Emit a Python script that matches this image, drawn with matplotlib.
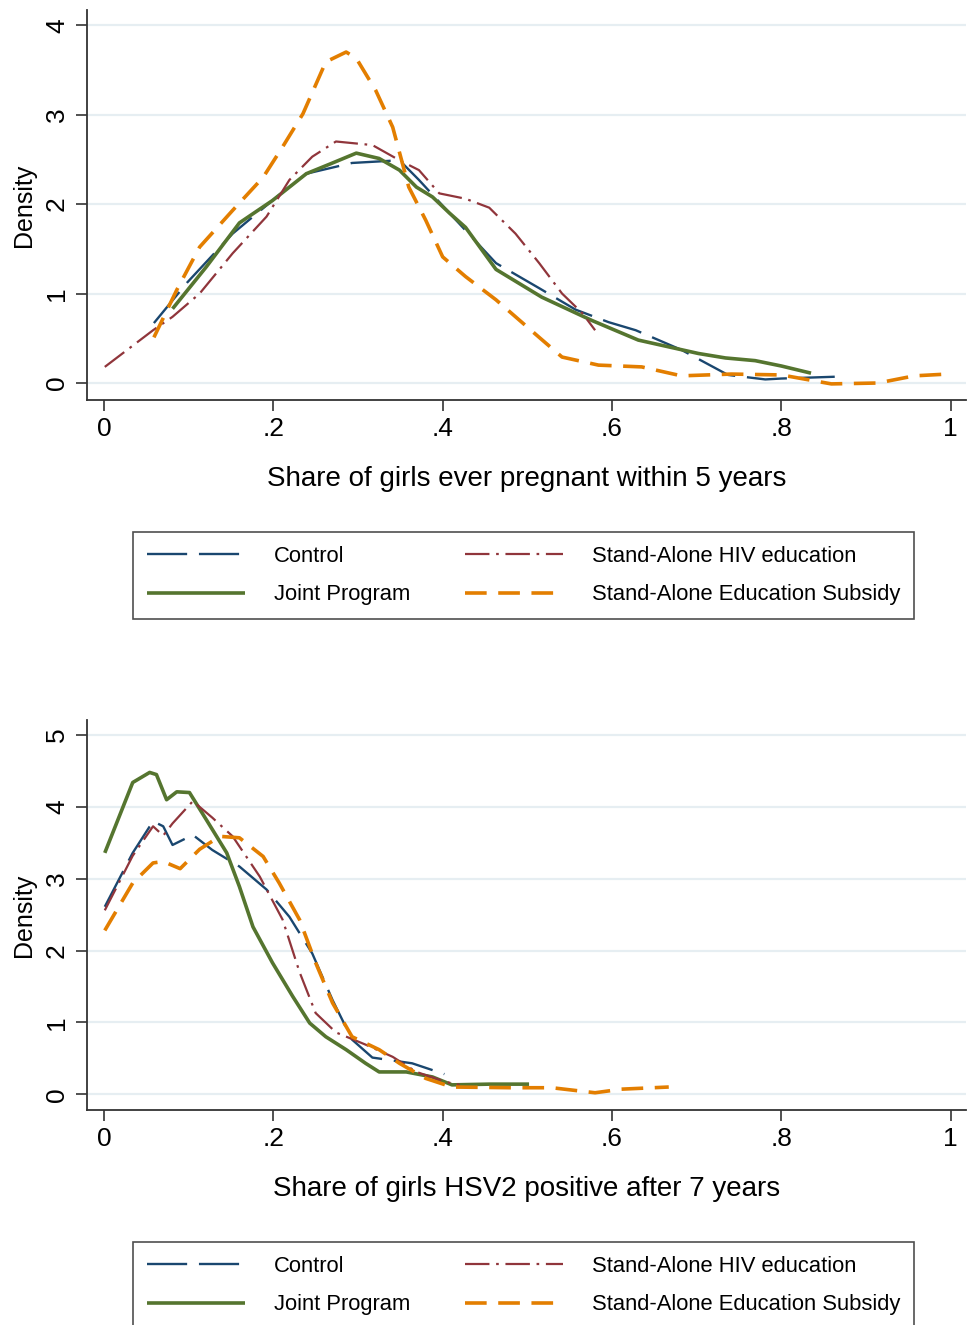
import matplotlib
matplotlib.use("Agg")
import matplotlib.pyplot as plt

plt.rcParams['font.family'] = ['Liberation Sans', 'DejaVu Sans']

# ---- data ----
groups = ["Control", "Joint Program", "Stand-Alone HIV education", "Stand-Alone Education Subsidy"]

# panel 1: share ever pregnant within 5 years
preg_ctrl_x = [0.059, 0.098, 0.152, 0.204, 0.239, 0.293, 0.349, 0.372, 0.408, 0.463, 0.514, 0.557, 0.596, 0.628, 0.682, 0.737, 0.781, 0.800, 0.863]
preg_ctrl_y = [0.67, 1.12, 1.67, 2.08, 2.34, 2.46, 2.49, 2.27, 1.90, 1.34, 1.06, 0.82, 0.68, 0.59, 0.37, 0.09, 0.04, 0.05, 0.07]
preg_joint_x = [0.081, 0.121, 0.160, 0.199, 0.239, 0.270, 0.298, 0.325, 0.349, 0.369, 0.388, 0.408, 0.427, 0.463, 0.517, 0.576, 0.631, 0.702, 0.734, 0.769, 0.800, 0.835]
preg_joint_y = [0.83, 1.30, 1.79, 2.04, 2.34, 2.46, 2.57, 2.51, 2.38, 2.19, 2.08, 1.90, 1.74, 1.27, 0.96, 0.70, 0.48, 0.33, 0.28, 0.25, 0.19, 0.11]
preg_hiv_x = [0.001, 0.058, 0.081, 0.113, 0.152, 0.192, 0.219, 0.246, 0.274, 0.317, 0.349, 0.372, 0.396, 0.427, 0.455, 0.486, 0.514, 0.541, 0.565, 0.580]
preg_hiv_y = [0.18, 0.59, 0.74, 1.00, 1.45, 1.86, 2.27, 2.53, 2.70, 2.66, 2.49, 2.38, 2.12, 2.06, 1.96, 1.67, 1.34, 1.00, 0.78, 0.59]
preg_sub_x = [0.059, 0.086, 0.113, 0.152, 0.188, 0.211, 0.235, 0.262, 0.286, 0.298, 0.321, 0.341, 0.360, 0.380, 0.400, 0.427, 0.463, 0.514, 0.541, 0.584, 0.635, 0.682, 0.741, 0.800, 0.859, 0.914, 0.957, 0.996]
preg_sub_y = [0.51, 1.04, 1.52, 1.93, 2.30, 2.64, 3.01, 3.59, 3.70, 3.63, 3.27, 2.86, 2.19, 1.82, 1.41, 1.19, 0.93, 0.51, 0.29, 0.20, 0.18, 0.08, 0.10, 0.09, -0.01, 0.00, 0.08, 0.10]

# panel 2: share HSV2 positive after 7 years
hsv_ctrl_x = [0.001, 0.034, 0.058, 0.070, 0.081, 0.105, 0.128, 0.160, 0.192, 0.219, 0.246, 0.270, 0.293, 0.317, 0.364, 0.402]
hsv_ctrl_y = [2.61, 3.36, 3.80, 3.73, 3.47, 3.61, 3.40, 3.17, 2.85, 2.47, 1.96, 1.31, 0.76, 0.51, 0.43, 0.28]
hsv_joint_x = [0.001, 0.034, 0.054, 0.062, 0.074, 0.086, 0.101, 0.121, 0.145, 0.160, 0.176, 0.199, 0.223, 0.243, 0.262, 0.286, 0.309, 0.325, 0.357, 0.388, 0.411, 0.455, 0.502]
hsv_joint_y = [3.36, 4.34, 4.48, 4.45, 4.10, 4.21, 4.20, 3.82, 3.36, 2.89, 2.33, 1.83, 1.36, 0.99, 0.80, 0.62, 0.43, 0.31, 0.31, 0.24, 0.13, 0.14, 0.14]
hsv_hiv_x = [0.001, 0.034, 0.058, 0.070, 0.081, 0.105, 0.128, 0.152, 0.184, 0.211, 0.231, 0.250, 0.274, 0.309, 0.341, 0.369, 0.404, 0.420]
hsv_hiv_y = [2.56, 3.32, 3.73, 3.60, 3.77, 4.08, 3.85, 3.59, 3.03, 2.43, 1.70, 1.13, 0.86, 0.69, 0.52, 0.31, 0.17, 0.13]
hsv_sub_x = [0.001, 0.034, 0.058, 0.070, 0.090, 0.113, 0.137, 0.160, 0.188, 0.207, 0.231, 0.250, 0.270, 0.293, 0.325, 0.349, 0.380, 0.411, 0.482, 0.529, 0.580, 0.611, 0.667]
hsv_sub_y = [2.28, 2.94, 3.22, 3.24, 3.14, 3.41, 3.59, 3.57, 3.31, 2.94, 2.43, 1.83, 1.27, 0.80, 0.62, 0.43, 0.22, 0.10, 0.09, 0.09, 0.02, 0.07, 0.10]

x_ticks = [0, 0.2, 0.4, 0.6, 0.8, 1]
x_ticklabels = ["0", ".2", ".4", ".6", ".8", "1"]

# stata s2color-ish styles
styles = {
    "Control": dict(color="#1a476f", lw=1.7, dashes=(17, 5)),
    "Joint Program": dict(color="#55752f", lw=2.6),
    "Stand-Alone HIV education": dict(color="#90353b", lw=1.6, dashes=(11, 3, 1.2, 3)),
    "Stand-Alone Education Subsidy": dict(color="#e37e00", lw=2.6, dashes=(6, 3.2)),
}

fig = plt.figure(figsize=(9.68, 13.25), dpi=100)
W, H = 968, 1325


def panel(top_px, curves, yticks, ylim, xlabel, legend_top):
    ax = fig.add_axes([87 / W, 1 - (top_px + 390) / H, (966 - 87) / W, 390 / H])
    handles = {}
    for name, (xs, ys) in zip(groups, curves):
        st = dict(styles[name])
        d = st.pop("dashes", None)
        ln, = ax.plot(xs, ys, label=name, solid_capstyle="butt", **st)
        if d is not None:
            ln.set_dashes(d)
            ln.set_dash_capstyle("butt")
        handles[name] = ln
    ax.set_xlim(-0.02, 1.018)
    ax.set_ylim(*ylim)
    ax.set_xticks(x_ticks)
    ax.set_xticklabels(x_ticklabels)
    ax.set_yticks(yticks)
    ax.set_yticklabels([str(v) for v in yticks])
    ax.yaxis.grid(True, color="#e6eef2", lw=1.6)
    ax.set_axisbelow(True)
    for s in ["top", "right"]:
        ax.spines[s].set_visible(False)
    for s in ["left", "bottom"]:
        ax.spines[s].set_color("#333333")
        ax.spines[s].set_linewidth(1.3)
    ax.tick_params(axis="both", length=8, width=1.2, color="#333333", labelsize=19)
    ax.tick_params(axis="x", pad=4)
    ax.tick_params(axis="y", pad=5, labelrotation=90)
    for t in ax.get_yticklabels():
        t.set_va("center")
    ax.set_xlabel(xlabel, fontsize=20)
    ax.xaxis.set_label_coords(0.5, -0.17)
    ax.set_ylabel("Density", fontsize=18)
    ax.yaxis.set_label_coords(-0.058, 0.5)

    # legend box below the plot, two columns like stata
    order = ["Control", "Joint Program", "Stand-Alone HIV education", "Stand-Alone Education Subsidy"]
    leg = fig.legend([handles[k] for k in order], order, ncol=2, loc="upper left",
                     bbox_to_anchor=(133 / W, 1 - legend_top / H), bbox_transform=fig.transFigure,
                     borderaxespad=0, fontsize=15.8, handlelength=4.47, handletextpad=1.32,
                     columnspacing=2.5, labelspacing=0.8, borderpad=0.63,
                     fancybox=False, frameon=True)
    leg.get_frame().set_edgecolor("#222222")
    leg.get_frame().set_linewidth(1.2)
    return ax


panel(10, [(preg_ctrl_x, preg_ctrl_y), (preg_joint_x, preg_joint_y),
           (preg_hiv_x, preg_hiv_y), (preg_sub_x, preg_sub_y)],
      [0, 1, 2, 3, 4], (-0.19, 4.17), "Share of girls ever pregnant within 5 years", 532)

panel(720, [(hsv_ctrl_x, hsv_ctrl_y), (hsv_joint_x, hsv_joint_y),
            (hsv_hiv_x, hsv_hiv_y), (hsv_sub_x, hsv_sub_y)],
      [0, 1, 2, 3, 4, 5], (-0.22, 5.21), "Share of girls HSV2 positive after 7 years", 1242)

fig.savefig("out.png", dpi=100)
